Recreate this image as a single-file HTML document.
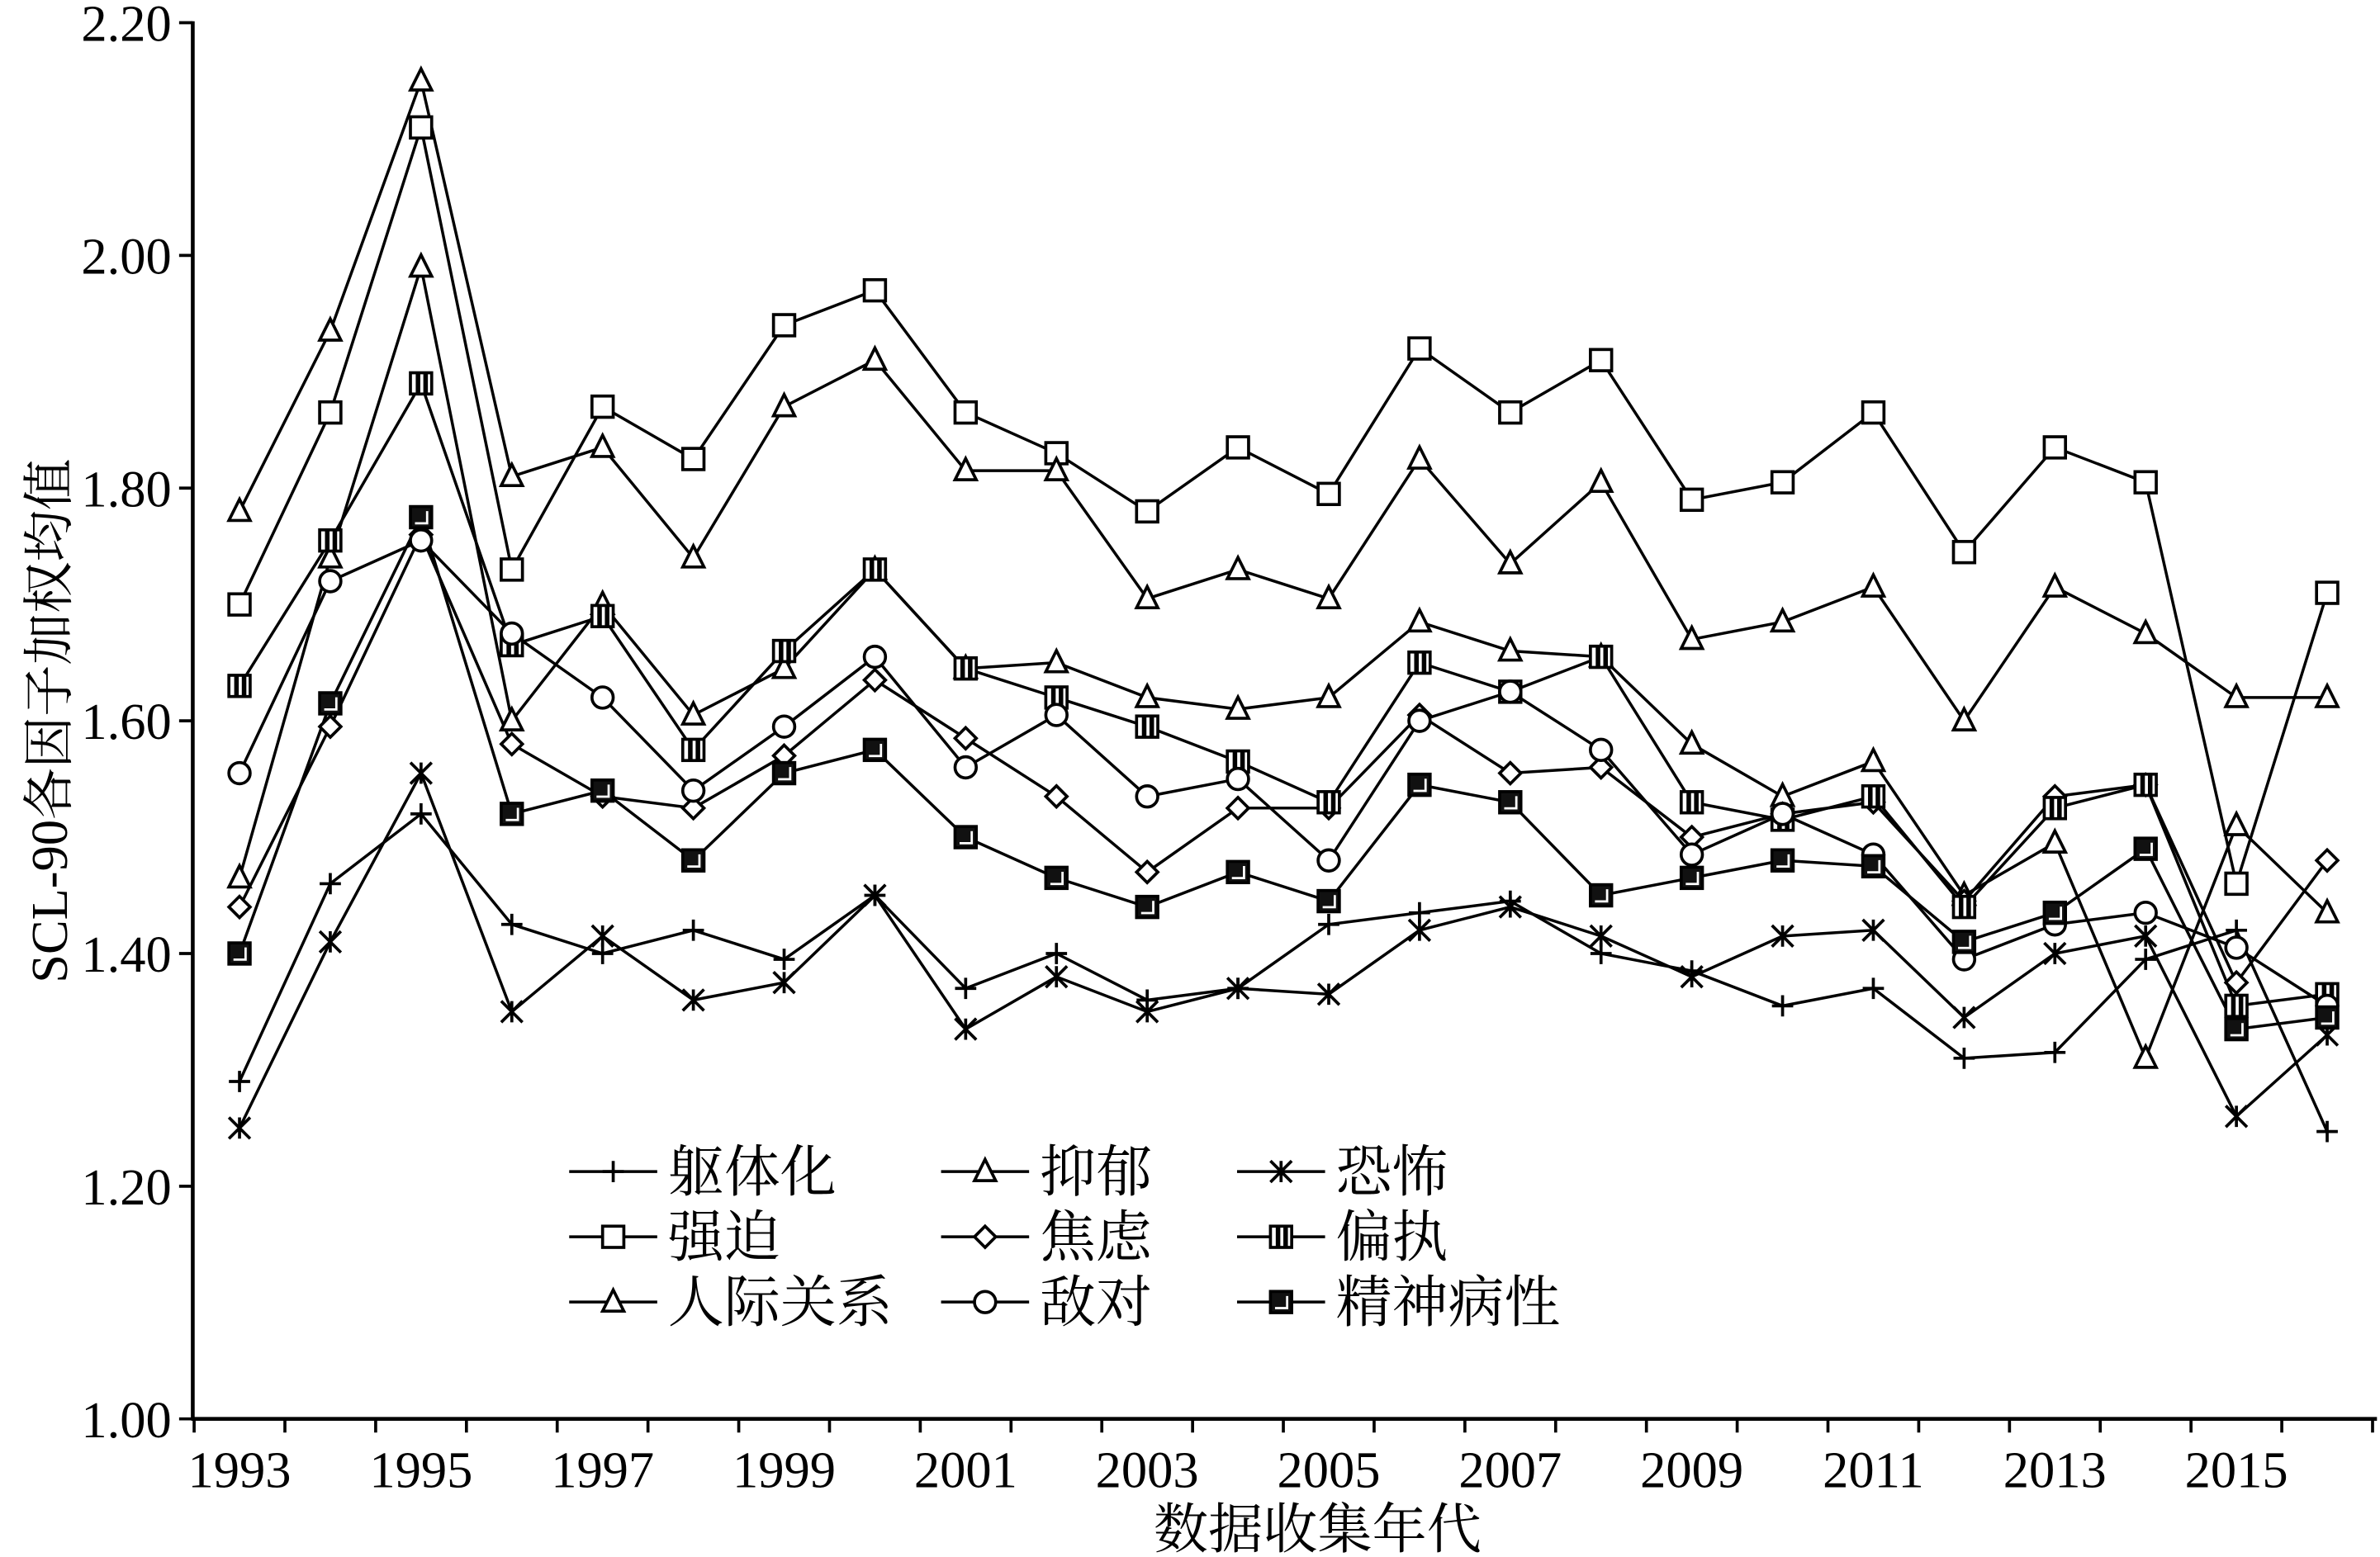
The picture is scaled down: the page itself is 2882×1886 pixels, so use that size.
<!DOCTYPE html>
<html><head><meta charset="utf-8"><style>html,body{margin:0;padding:0;background:#fff}svg{display:block}</style></head>
<body>
<svg id="s" width="2882" height="1886" viewBox="0 0 1568 1026" preserveAspectRatio="none" xmlns="http://www.w3.org/2000/svg" font-family="'Liberation Serif','Noto Serif CJK SC',serif"></svg>
<script>
const S=document.getElementById('s');let h='';
const X=i=>157.8+59.8*i, Y=v=>935-(v-1)*766.7;
h+='<line x1="127" y1="14" x2="127" y2="936" stroke="#000" stroke-width="2.5"/>';
h+='<line x1="126" y1="935" x2="1566" y2="935" stroke="#000" stroke-width="2.5"/>';
for(let k=0;k<=24;k++){const x=127.9+59.8*k;h+=`<line x1="${x}" y1="935" x2="${x}" y2="944" stroke="#000" stroke-width="2"/>`;}
for(let k=0;k<=6;k++){const v=1+k*0.2,y=Y(v);h+=`<line x1="118" y1="${y}" x2="127" y2="${y}" stroke="#000" stroke-width="2"/>`;
h+=`<text x="113" y="${y+12}" font-size="34" text-anchor="end">${v.toFixed(2)}</text>`;}
for(let i=0;i<24;i+=2){h+=`<text x="${X(i)}" y="980" font-size="34" text-anchor="middle">${1993+i}</text>`;}
h+='<text x="868" y="1020" font-size="36" text-anchor="middle">数据收集年代</text>';
h+='<text transform="translate(44,475) rotate(-90)" font-size="34" text-anchor="middle">SCL-90各因子加权均值</text>';
function mk(t,x,y){const r=7;const sw=2;switch(t){
case'+':return `<path d="M${x-r} ${y}H${x+r}M${x} ${y-r}V${y+r}" stroke="#000" stroke-width="${sw}" fill="none"/>`;
case'*':return `<path d="M${x-r} ${y-r}L${x+r} ${y+r}M${x-r} ${y+r}L${x+r} ${y-r}M${x} ${y-r}V${y+r}" stroke="#000" stroke-width="${sw}" fill="none"/>`;
case'sq':return `<rect x="${x-r}" y="${y-r}" width="${2*r}" height="${2*r}" fill="#fff" stroke="#000" stroke-width="${sw}"/>`;
case'tri':return `<path d="M${x} ${y-r-1}L${x+r} ${y+r-1}H${x-r}Z" fill="#fff" stroke="#000" stroke-width="${sw}"/>`;
case'dia':return `<path d="M${x} ${y-r}L${x+r} ${y}L${x} ${y+r}L${x-r} ${y}Z" fill="#fff" stroke="#000" stroke-width="${sw}"/>`;
case'cir':return `<circle cx="${x}" cy="${y}" r="${r}" fill="#fff" stroke="#000" stroke-width="${sw}"/>`;
case'par':return `<rect x="${x-r}" y="${y-r}" width="${2*r}" height="${2*r}" fill="#fff" stroke="#000" stroke-width="${sw}"/><rect x="${x-3.5}" y="${y-r}" width="3" height="${2*r}" fill="#000"/><rect x="${x+1.5}" y="${y-r}" width="3" height="${2*r}" fill="#000"/>`;
case'fsq':return `<rect x="${x-r}" y="${y-r}" width="${2*r}" height="${2*r}" fill="#111" stroke="#000" stroke-width="${sw}"/><path d="M${x-4} ${y+4}H${x+4}V${y-4}" stroke="#fff" stroke-width="1.5" fill="none"/>`;
}}
const D=[
['+',[1.29,1.46,1.52,1.425,1.40,1.42,1.395,1.45,1.37,1.40,1.36,1.37,1.425,1.435,1.445,1.40,1.385,1.355,1.37,1.31,1.315,1.395,1.42,1.247]],
['sq',[1.70,1.865,2.11,1.73,1.87,1.825,1.94,1.97,1.865,1.83,1.78,1.835,1.795,1.92,1.865,1.91,1.79,1.805,1.865,1.745,1.835,1.805,1.46,1.71]],
['tri',[1.78,1.935,2.15,1.81,1.835,1.74,1.87,1.91,1.815,1.815,1.705,1.73,1.705,1.825,1.735,1.805,1.67,1.685,1.715,1.60,1.715,1.675,1.62,1.62]],
['tri',[1.465,1.74,1.99,1.60,1.70,1.605,1.645,1.73,1.645,1.65,1.62,1.61,1.62,1.685,1.66,1.655,1.58,1.535,1.565,1.45,1.495,1.31,1.51,1.435]],
['*',[1.25,1.41,1.555,1.35,1.415,1.36,1.375,1.45,1.335,1.38,1.35,1.37,1.365,1.42,1.44,1.415,1.38,1.415,1.42,1.345,1.40,1.415,1.26,1.33]],
['dia',[1.44,1.595,1.76,1.58,1.535,1.525,1.57,1.635,1.585,1.535,1.47,1.525,1.525,1.605,1.555,1.56,1.50,1.52,1.53,1.445,1.535,1.545,1.375,1.48]],
['par',[1.63,1.755,1.89,1.665,1.69,1.575,1.66,1.73,1.645,1.62,1.595,1.565,1.53,1.65,1.625,1.655,1.53,1.515,1.535,1.44,1.525,1.545,1.355,1.365]],
['cir',[1.555,1.72,1.755,1.675,1.62,1.54,1.595,1.655,1.56,1.605,1.535,1.55,1.48,1.60,1.625,1.575,1.485,1.52,1.485,1.395,1.425,1.435,1.405,1.355]],
['fsq',[1.40,1.615,1.775,1.52,1.54,1.48,1.555,1.575,1.50,1.465,1.44,1.47,1.445,1.545,1.53,1.45,1.465,1.48,1.475,1.41,1.435,1.49,1.335,1.345]]];
D.forEach(([t,a])=>{h+=`<polyline fill="none" stroke="#000" stroke-width="1.9" points="${a.map((v,i)=>X(i)+','+Y(v)).join(' ')}"/>`;});
D.forEach(([t,a])=>{a.forEach((v,i)=>{h+=mk(t,X(i),Y(v));});});
const L=[['+','躯体化',375,772],['tri','抑郁',620,772],['*','恐怖',815,772],
['sq','强迫',375,815],['dia','焦虑',620,815],['par','偏执',815,815],
['tri','人际关系',375,858],['cir','敌对',620,858],['fsq','精神病性',815,858]];
L.forEach(([t,s,x,y])=>{h+=`<line x1="${x}" y1="${y}" x2="${x+58}" y2="${y}" stroke="#000" stroke-width="1.9"/>`+mk(t,x+29,y)+`<text x="${x+65}" y="${y+13}" font-size="37">${s}</text>`;});
S.innerHTML=h;
</script>
</body></html>
